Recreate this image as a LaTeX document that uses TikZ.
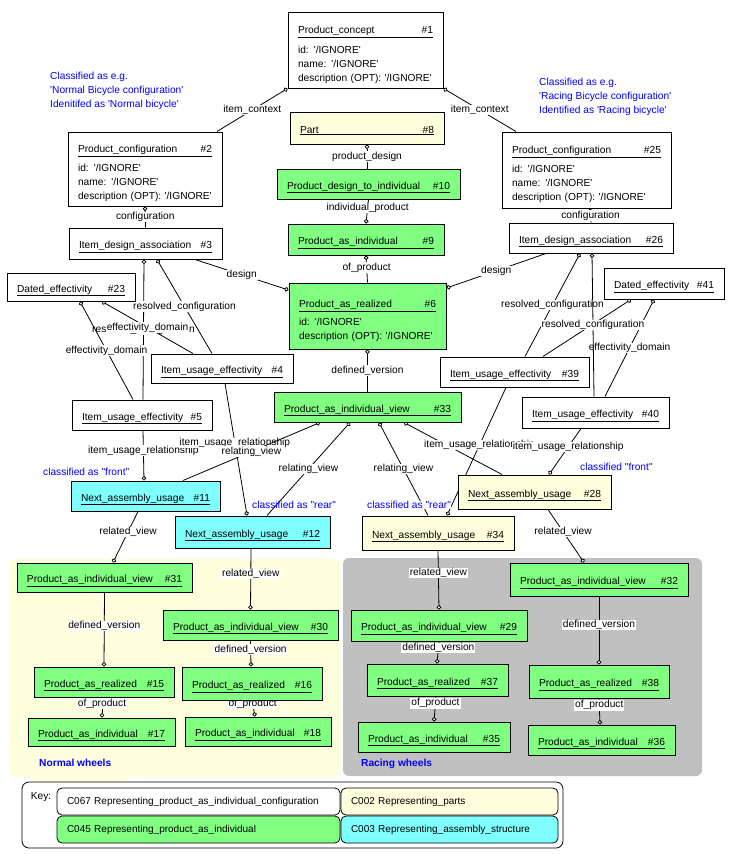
\documentclass[tikz,border=0pt]{standalone}
\usepackage{fontspec}
\newfontfamily\fnt{Liberation Sans}
\usetikzlibrary{arrows.meta,backgrounds}

\definecolor{pgreen}{RGB}{128,255,128}
\definecolor{pcyan}{RGB}{128,255,255}
\definecolor{pyellow}{RGB}{255,255,221}
\definecolor{pgrey}{RGB}{192,192,192}

% title line of an entity box, underlined over the full width
\newcommand{\ttl}[2]{\underline{\makebox[\linewidth][l]{#1\hfill#2}}}

\begin{document}
\begin{tikzpicture}[x=1pt, y=-1pt,
					font=\fnt\fontsize{10.2}{14}\selectfont,
					entity/.style={draw, line width=1pt, fill=white, inner sep=0pt, align=left,
						path picture={\fill (path picture bounding box.south east) -- ++(-9pt,0pt) -- ++(9pt,9pt) -- cycle;}},
					entity box/.style={entity, text height=12pt, text depth=2pt},
					attr box/.style={entity, text height=17pt},
					box size/.code 2 args={\pgfmathsetlengthmacro\boxtw{#1-20pt}%
						\pgfkeysalso{minimum width=#1pt, minimum height=#2pt, text width=\boxtw}},
					con/.style={line width=0.8pt, -{Circle[fill=white, length=4.5pt, line width=0.8pt]}},
					rel label/.style={fill=white, inner xsep=1pt, inner ysep=0.5pt},
					note/.style={text=blue, align=left, anchor=west, inner sep=0pt},
					key cell/.style={draw, line width=0.8pt, rounded corners=5pt, inner sep=0pt, align=left,
						font=\fnt\fontsize{10}{12}\selectfont}]

  \useasboundingbox (0,0) rectangle (746,854);

  % upper part
  \node[attr box, box size={155}{76}] (n1) at (365.5,50) {\ttl{Product\_concept}{\#1}\\[6pt] \mbox{id: '/IGNORE'}\\ \mbox{name: '/IGNORE'}\\ \mbox{description (OPT): '/IGNORE'}};
  \node[attr box, box size={154}{74}] (n2) at (145,169) {\ttl{Product\_configuration}{\#2}\\[5pt] \mbox{id: '/IGNORE'}\\ \mbox{name: '/IGNORE'}\\ \mbox{description (OPT): '/IGNORE'}};
  \node[attr box, box size={169}{76}] (n25) at (586.5,170) {\ttl{Product\_configuration}{\#25}\\[5pt] \mbox{id: '/IGNORE'}\\ \mbox{name: '/IGNORE'}\\ \mbox{description (OPT): '/IGNORE'}};
  \node[entity box, box size={154}{32}, fill=pyellow] (n8) at (367,128) {\ttl{Part}{\#8}};
  \node[entity box, box size={183}{30}, fill=pgreen] (n10) at (368.5,184) {\ttl{Product\_design\_to\_individual}{\#10}};
  \node[entity box, box size={156}{31}, fill=pgreen] (n9) at (366,239.5) {\ttl{Product\_as\_individual}{\#9}};
  \node[attr box, box size={157}{66}, fill=pgreen] (n6) at (367.5,316) {\ttl{Product\_as\_realized}{\#6}\\[4pt] \mbox{id: '/IGNORE'}\\ \mbox{description (OPT): '/IGNORE'}};
  \node[entity box, box size={187}{30}, fill=pgreen] (n33) at (367.5,407) {\ttl{Product\_as\_individual\_view}{\#33}};
  \node[entity box, box size={153}{31}] (n3) at (145.5,243.5) {\ttl{Item\_design\_association}{\#3}};
  \node[entity box, box size={164}{30}] (n26) at (591,238) {\ttl{Item\_design\_association}{\#26}};

  % effectivities
  \node[entity box, box size={128}{28}] (n23) at (71,287) {\ttl{Dated\_effectivity}{\#23}};
  \node[entity box, box size={142}{29}] (n4) at (222,368.5) {\ttl{Item\_usage\_effectivity}{\#4}};
  \node[entity box, box size={140}{30}] (n5) at (142,415) {\ttl{Item\_usage\_effectivity}{\#5}};
  \node[entity box, box size={120}{31}] (n41) at (664,283.5) {\ttl{Dated\_effectivity}{\#41}};
  \node[entity box, box size={149}{30}] (n39) at (514.5,372) {\ttl{Item\_usage\_effectivity}{\#39}};
  \node[entity box, box size={147}{31}] (n40) at (595.5,412.5) {\ttl{Item\_usage\_effectivity}{\#40}};

  % assembly usages
  \node[entity box, box size={149}{30}, fill=pcyan] (n11) at (145.5,496) {\ttl{Next\_assembly\_usage}{\#11}};
  \node[entity box, box size={155}{32}, fill=pcyan] (n12) at (252.5,532) {\ttl{Next\_assembly\_usage}{\#12}};
  \node[entity box, box size={153}{34}, fill=pyellow] (n28) at (534.5,492) {\ttl{Next\_assembly\_usage}{\#28}};
  \node[entity box, box size={152}{34}, fill=pyellow] (n34) at (438,533) {\ttl{Next\_assembly\_usage}{\#34}};

  % normal wheels
  \node[entity box, box size={175}{29}, fill=pgreen] (n31) at (104.5,577.5) {\ttl{Product\_as\_individual\_view}{\#31}};
  \node[entity box, box size={175}{30}, fill=pgreen] (n30) at (250.5,625) {\ttl{Product\_as\_individual\_view}{\#30}};
  \node[entity box, box size={140}{30}, fill=pgreen] (n15) at (104,682) {\ttl{Product\_as\_realized}{\#15}};
  \node[entity box, box size={140}{33}, fill=pgreen] (n16) at (252,683.5) {\ttl{Product\_as\_realized}{\#16}};
  \node[entity box, box size={147}{28}, fill=pgreen] (n17) at (101.5,732) {\ttl{Product\_as\_individual}{\#17}};
  \node[entity box, box size={146}{29}, fill=pgreen] (n18) at (258,731.5) {\ttl{Product\_as\_individual}{\#18}};

  % racing wheels
  \node[entity box, box size={176}{31}, fill=pgreen] (n29) at (439,625.5) {\ttl{Product\_as\_individual\_view}{\#29}};
  \node[entity box, box size={178}{33}, fill=pgreen] (n32) at (599,579.5) {\ttl{Product\_as\_individual\_view}{\#32}};
  \node[entity box, box size={141}{32}, fill=pgreen] (n37) at (437.5,680) {\ttl{Product\_as\_realized}{\#37}};
  \node[entity box, box size={140}{33}, fill=pgreen] (n38) at (599,681.5) {\ttl{Product\_as\_realized}{\#38}};
  \node[entity box, box size={152}{30}, fill=pgreen] (n35) at (434,737) {\ttl{Product\_as\_individual}{\#35}};
  \node[entity box, box size={147}{30}, fill=pgreen] (n36) at (601.5,740) {\ttl{Product\_as\_individual}{\#36}};

  % notes
  \node[note] (note2) at (50,91) {Classified as e.g.\\'Normal Bicycle configuration'\\Idenitifed as 'Normal bicycle'};
  \node[note] (note25) at (539,97) {Classified as e.g.\\'Racing Bicycle configuration'\\Identified as 'Racing bicycle'};
  \node[note] (note11) at (43,472) {classified as "front"};
  \node[note] (note12) at (252,505) {classified as "rear"};
  \node[note, fill=white] (note34) at (367,505) {classified as "rear"};
  \node[note] (note28) at (580,467) {classified "front"};
  \node[note, font=\fnt\fontsize{10.2}{14}\selectfont\bfseries] (normal) at (39,763) {Normal wheels};
  \node[note, font=\fnt\fontsize{10.2}{14}\selectfont\bfseries] (racing) at (361,764) {Racing wheels};

  % key
  \node[draw, line width=0.8pt, rounded corners=7pt, minimum width=541pt, minimum height=66pt] (key) at (292.5,815) {};
  \node (keylbl) at (41,797) {Key:};
  \node[key cell, box size={283}{27}, fill=white] (k067) at (198.5,801.5) {\mbox{C067 Representing\_product\_as\_individual\_configuration}};
  \node[key cell, box size={217}{27}, fill=pyellow] (k002) at (449.5,801.5) {C002 Representing\_parts};
  \node[key cell, box size={283}{27}, fill=pgreen] (k045) at (198.5,829.5) {C045 Representing\_product\_as\_individual};
  \node[key cell, box size={217}{27}, fill=pcyan] (k003) at (449.5,829.5) {\mbox{C003 Representing\_assembly\_structure}};

  \begin{scope}[on background layer]
	\fill[pyellow, rounded corners=6pt] (9,559) rectangle (340,777);
	\fill[pyellow, rounded corners=6pt] (31,770) rectangle (129,782);
	\fill[pgrey, rounded corners=6pt] (343,558) rectangle (702,776);

	\path[con]
	  ([xshift=72pt]n2.north) edge node[rel label] {item\_context} (n1.south west)
	  ([xshift=-70.5pt]n25.north) edge node[rel label] {item\_context} (n1.south east)
	  (n10.north -| n8.south) edge node[rel label] {product\_design} (n8.south)
	  (n10.south) edge node[rel label, pos=.35] {individual\_product} (n9.north)
	  (n6.north) edge node[rel label, pos=.55] {of\_product} (n9.south)
	  (n33.north) edge node[rel label] {defined\_version} (n6.south)
	  ([xshift=49.5pt]n3.south) edge node[rel label] {design} ([yshift=26pt]n6.west)
	  ([xshift=-45pt]n26.south) edge node[rel label] {design} ([yshift=28pt]n6.east)
	  (n3.north) edge node[rel label] {configuration} (n2.south)
	  (n26.north) edge node[rel label] {configuration} ([xshift=3.5pt]n25.south)
	  % effectivity links
	  ([xshift=1pt]n5.north) edge node[rel label] {resolved\_configuration} ([xshift=-1.5pt]n3.south)
	  ([xshift=-10pt]n4.north) edge node[rel label] {resolved\_configuration} ([xshift=11.5pt]n3.south)
	  ([xshift=-29pt]n4.north) edge node[rel label] {effectivity\_domain} ([xshift=31pt]n23.south)
	  ([xshift=-9pt]n5.north) edge node[rel label] {effectivity\_domain} ([xshift=9pt]n23.south)
	  ([xshift=10.5pt]n39.north) edge node[rel label] {resolved\_configuration} ([xshift=-11pt]n26.south)
	  ([xshift=28.5pt]n39.north) edge ([xshift=-33pt]n41.south)
	  ([xshift=9.5pt]n40.north) edge node[rel label] {effectivity\_domain} ([xshift=-10pt]n41.south)
	  ([xshift=-1.5pt]n40.north) edge node[rel label] {resolved\_configuration} ([xshift=1pt]n26.south)
	  % usage links
	  ([xshift=1pt]n5.south) edge node[rel label, pos=.4] {item\_usage\_relationship} ([xshift=-1.5pt]n11.north)
	  ([xshift=3pt]n4.south) edge node[rel label, pos=.45] {item\_usage\_relationship} ([xshift=-5.5pt]n12.north)
	  ([xshift=37.5pt]n11.north) edge node[rel label] {relating\_view} ([xshift=-47.5pt]n33.south)
	  ([xshift=14.5pt]n12.north) edge node[rel label] {relating\_view} ([xshift=-17.5pt]n33.south)
	  ([xshift=-10pt]n34.north) edge node[rel label] {relating\_view} ([xshift=11.5pt]n33.south)
	  ([xshift=-32.5pt]n28.north) edge ([xshift=36.5pt]n33.south)
	  ([xshift=-8.5pt]n39.south) edge node[rel label, pos=.45] {item\_usage\_relationship} ([xshift=9pt]n34.north)
	  ([xshift=-14.5pt]n40.south) edge node[rel label, pos=.4] {item\_usage\_relationship} ([xshift=14.5pt]n28.north)
	  % views and versions
	  ([xshift=-7.5pt]n11.south) edge node[rel label, pos=.4] {related\_view} ([xshift=8.5pt]n31.north)
	  ([xshift=-1.5pt]n12.south) edge node[rel label, pos=.42] {related\_view} (n30.north)
	  ([xshift=13.5pt]n28.south) edge node[rel label, pos=.42] {related\_view} ([xshift=-15pt]n32.north)
	  (n34.south) edge node[rel label, pos=.38] {related\_view} (n29.north)
	  (n31.south) edge node[rel label, pos=.45] {defined\_version} (n15.north)
	  (n30.south) edge node[rel label, pos=.35] {defined\_version} ([xshift=-1pt]n16.north)
	  ([xshift=-2pt]n15.south) edge node[rel label, pos=.3] {of\_product} ([xshift=.5pt]n17.north)
	  (n16.south) edge node[rel label, pos=.2] {of\_product} ([xshift=-3pt]n18.north)
	  (n29.south) edge node[rel label, pos=.3] {defined\_version} ([xshift=-.5pt]n37.north)
	  (n32.south) edge node[rel label, pos=.42] {defined\_version} (n38.north)
	  ([xshift=-1.5pt]n37.south) edge node[rel label, pos=.27] {of\_product} (n35.north)
	  (n38.south) edge node[rel label, pos=.26] {of\_product} ([xshift=-1.5pt]n36.north);
  \end{scope}
\end{tikzpicture}
\end{document}
